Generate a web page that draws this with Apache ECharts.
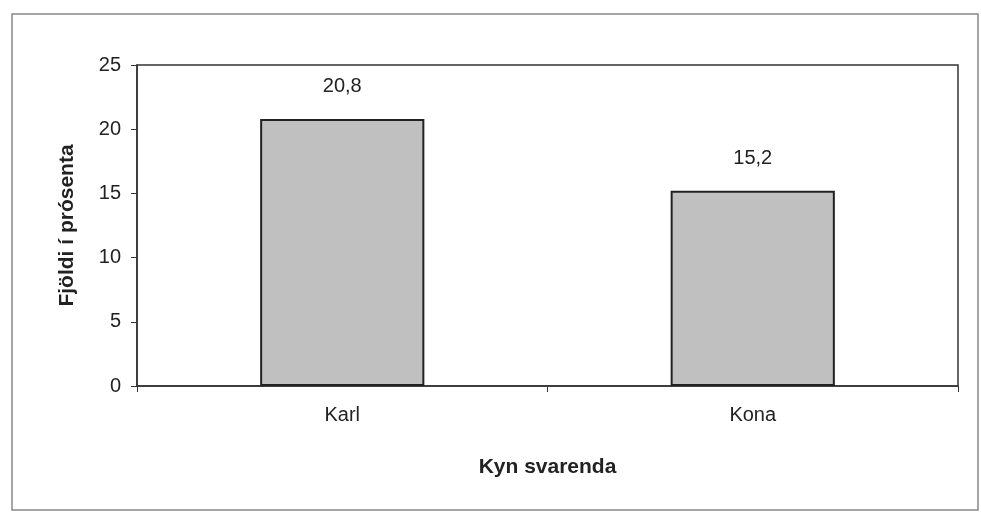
<!DOCTYPE html>
<html>
<head>
<meta charset="utf-8">
<script src="https://cdn.jsdelivr.net/npm/echarts@6/dist/echarts.min.js"></script>
<style>
  html, body { margin: 0; padding: 0; background: #fff; }
  #chart { width: 981px; height: 515px; }
</style>
</head>
<body>
<div id="chart"></div>
<script>
// categories and values
const categories = ['Karl', 'Kona']
const percentValues = [20.8, 15.2]
const yTicks = [0, 5, 10, 15, 20, 25]

const chart = echarts.init(document.getElementById('chart'))

chart.setOption({
  backgroundColor: '#fff',
  animation: false,
  textStyle: { fontFamily: 'Liberation Sans, Arial, sans-serif' },
  graphic: [
    {
      // scanned page frame
      type: 'rect',
      shape: { x: 12, y: 14, width: 966, height: 496 },
      style: { fill: 'none', stroke: '#888', lineWidth: 1.5 },
      silent: true
    }
  ],
  grid: {
    left: 137,
    right: 23,
    top: 65,
    bottom: 129,
    show: true,
    borderColor: '#333',
    borderWidth: 1.5
  },
  xAxis: {
    type: 'category',
    data: categories,
    name: 'Kyn svarenda',
    nameLocation: 'middle',
    nameGap: 71,
    nameTextStyle: { fontSize: 21, fontWeight: 'bold', color: '#222' },
    axisLine: { lineStyle: { color: '#333', width: 1.5 } },
    axisTick: { show: true, length: 6, lineStyle: { color: '#333' } },
    axisLabel: { fontSize: 20, color: '#222', margin: 19 }
  },
  yAxis: {
    type: 'value',
    min: yTicks[0],
    max: yTicks[yTicks.length - 1],
    interval: 5,
    name: 'Fjöldi í prósenta',
    nameLocation: 'middle',
    nameGap: 59,
    nameTextStyle: { fontSize: 21, fontWeight: 'bold', color: '#222' },
    axisLine: { show: true, lineStyle: { color: '#333', width: 1.5 } },
    axisTick: { show: true, length: 6, lineStyle: { color: '#333' } },
    axisLabel: { fontSize: 20, color: '#222', margin: 16 },
    splitLine: { show: false }
  },
  series: [
    {
      type: 'bar',
      data: percentValues,
      barWidth: '40%',
      itemStyle: {
        color: '#c0c0c0',
        borderColor: '#222',
        borderWidth: 2
      },
      label: {
        show: true,
        position: 'top',
        distance: 22,
        fontSize: 20,
        color: '#222',
        formatter: p => String(p.value).replace('.', ',')
      }
    }
  ]
})
</script>
</body>
</html>
